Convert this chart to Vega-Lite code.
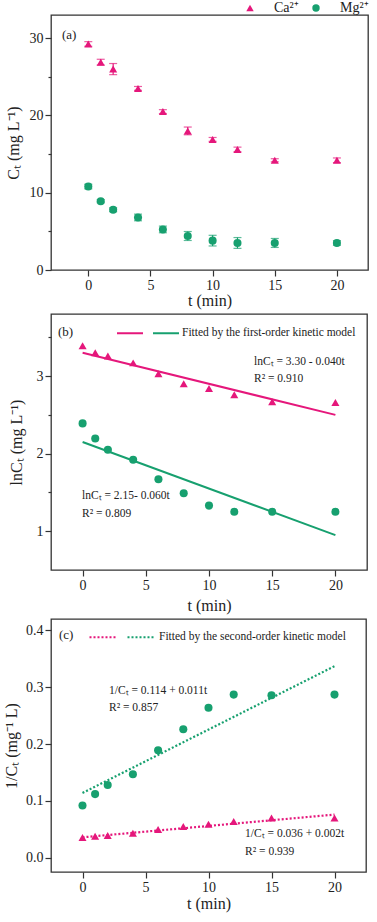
{
  "$schema": "https://vega.github.io/schema/vega-lite/v6.json",
  "padding": {"left": 2, "top": 0, "right": 5, "bottom": 3},
  "background": "white",
  "spacing": 4,
  "datasets": {
    "obs": [
      {"t": 0, "ion": "Ca²⁺", "c": 29.25, "err": 0.3, "lnc": 3.39, "inv": 0.0355},
      {"t": 1, "ion": "Ca²⁺", "c": 26.9, "err": 0.37, "lnc": 3.30, "inv": 0.038},
      {"t": 2, "ion": "Ca²⁺", "c": 26.0, "err": 0.72, "lnc": 3.26, "inv": 0.039},
      {"t": 4, "ion": "Ca²⁺", "c": 23.5, "err": 0.25, "lnc": 3.17, "inv": 0.043},
      {"t": 6, "ion": "Ca²⁺", "c": 20.5, "err": 0.25, "lnc": 3.03, "inv": 0.0496},
      {"t": 8, "ion": "Ca²⁺", "c": 18.0, "err": 0.5, "lnc": 2.90, "inv": 0.055},
      {"t": 10, "ion": "Ca²⁺", "c": 16.9, "err": 0.25, "lnc": 2.84, "inv": 0.059},
      {"t": 12, "ion": "Ca²⁺", "c": 15.6, "err": 0.3, "lnc": 2.76, "inv": 0.064},
      {"t": 15, "ion": "Ca²⁺", "c": 14.2, "err": 0.2, "lnc": 2.67, "inv": 0.070},
      {"t": 20, "ion": "Ca²⁺", "c": 14.2, "err": 0.3, "lnc": 2.66, "inv": 0.070},
      {"t": 0, "ion": "Mg²⁺", "c": 10.8, "err": 0.3, "lnc": 2.39, "inv": 0.092},
      {"t": 1, "ion": "Mg²⁺", "c": 8.9, "err": 0.2, "lnc": 2.195, "inv": 0.112},
      {"t": 2, "ion": "Mg²⁺", "c": 7.8, "err": 0.25, "lnc": 2.05, "inv": 0.128},
      {"t": 4, "ion": "Mg²⁺", "c": 6.8, "err": 0.43, "lnc": 1.92, "inv": 0.147},
      {"t": 6, "ion": "Mg²⁺", "c": 5.25, "err": 0.43, "lnc": 1.67, "inv": 0.189},
      {"t": 8, "ion": "Mg²⁺", "c": 4.4, "err": 0.58, "lnc": 1.49, "inv": 0.226},
      {"t": 10, "ion": "Mg²⁺", "c": 3.8, "err": 0.69, "lnc": 1.33, "inv": 0.264},
      {"t": 12, "ion": "Mg²⁺", "c": 3.5, "err": 0.7, "lnc": 1.25, "inv": 0.287},
      {"t": 15, "ion": "Mg²⁺", "c": 3.5, "err": 0.58, "lnc": 1.25, "inv": 0.286},
      {"t": 20, "ion": "Mg²⁺", "c": 3.5, "err": 0.3, "lnc": 1.25, "inv": 0.287}
    ],
    "fit1": [
      {"t": 0, "ion": "Ca²⁺", "v": 3.30},
      {"t": 20, "ion": "Ca²⁺", "v": 2.50},
      {"t": 0, "ion": "Mg²⁺", "v": 2.15},
      {"t": 20, "ion": "Mg²⁺", "v": 0.95}
    ],
    "fit2": [
      {"t": 0, "ion": "Ca²⁺", "v": 0.036},
      {"t": 20, "ion": "Ca²⁺", "v": 0.076},
      {"t": 0, "ion": "Mg²⁺", "v": 0.114},
      {"t": 20, "ion": "Mg²⁺", "v": 0.337}
    ]
  },
  "resolve": {"scale": {"color": "independent", "shape": "independent"}},
  "vconcat": [
    {
      "width": 317,
      "height": 255,
      "resolve": {"legend": {"color": "independent", "shape": "independent"}},
      "layer": [
        {
          "data": {"name": "obs"},
          "mark": {"type": "errorbar", "ticks": {"size": 8}, "thickness": 1.2},
          "encoding": {
            "x": {"field": "t", "type": "quantitative", "scale": {"domain": [-3, 22.5], "nice": false, "zero": false},
              "axis": {"title": "t (min)", "values": [0, 2.5, 5, 7.5, 10, 12.5, 15, 17.5, 20], "labelExpr": "datum.value % 5 === 0 ? datum.label : ''", "tickSize": {"condition": {"test": "datum.value % 5 === 0", "value": 6}, "value": 3}, "titlePadding": 0}},
            "y": {"field": "c", "type": "quantitative", "scale": {"domain": [0, 33], "nice": false, "zero": false},
              "axis": {"title": "Cₜ  (mg L⁻¹)", "values": [0, 5, 10, 15, 20, 25, 30], "labelExpr": "datum.value % 10 === 0 ? datum.label : ''", "tickSize": {"condition": {"test": "datum.value % 10 === 0", "value": 6}, "value": 3}, "titlePadding": 8}},
            "yError": {"field": "err"},
            "color": {"field": "ion", "type": "nominal", "scale": {"domain": ["Ca²⁺", "Mg²⁺"], "range": ["#E5177B", "#17A06F"]}, "legend": null}
          }
        },
        {
          "data": {"name": "obs"},
          "mark": {"type": "point", "filled": true, "opacity": 1, "size": 65},
          "encoding": {
            "x": {"field": "t", "type": "quantitative"},
            "y": {"field": "c", "type": "quantitative"},
            "color": {"field": "ion", "type": "nominal", "scale": {"domain": ["Ca²⁺", "Mg²⁺"], "range": ["#E5177B", "#17A06F"]},
              "legend": {"orient": "none", "legendX": 192, "legendY": -14, "direction": "horizontal", "title": null, "labelFontSize": 14, "labelOffset": 17, "columnPadding": 10, "symbolSize": 55}},
            "shape": {"field": "ion", "type": "nominal", "scale": {"domain": ["Ca²⁺", "Mg²⁺"], "range": ["triangle-up", "circle"]},
              "legend": {"orient": "none", "legendX": 192, "legendY": -14, "direction": "horizontal", "title": null, "labelFontSize": 14, "labelOffset": 17, "columnPadding": 10, "symbolSize": 55}}
          }
        },
        {
          "data": {"values": [{}]},
          "mark": {"type": "text", "align": "left", "baseline": "middle", "fontSize": 13, "color": "#222"},
          "encoding": {"x": {"datum": -2.12}, "y": {"datum": 30.4}, "text": {"value": "(a)"}}
        }
      ]
    },
    {
      "width": 316,
      "height": 256,
      "resolve": {"legend": {"color": "independent", "shape": "independent"}},
      "layer": [
        {
          "data": {"name": "fit1"},
          "mark": {"type": "line", "strokeWidth": 2},
          "encoding": {
            "x": {"field": "t", "type": "quantitative", "scale": {"domain": [-2.5, 22.5], "nice": false, "zero": false},
              "axis": {"title": "t (min)", "values": [0, 2.5, 5, 7.5, 10, 12.5, 15, 17.5, 20], "labelExpr": "datum.value % 5 === 0 ? datum.label : ''", "tickSize": {"condition": {"test": "datum.value % 5 === 0", "value": 6}, "value": 3}, "titlePadding": 5}},
            "y": {"field": "v", "type": "quantitative", "scale": {"domain": [0.5, 3.8], "nice": false, "zero": false},
              "axis": {"title": "lnCₜ (mg L⁻¹)", "values": [1, 1.5, 2, 2.5, 3, 3.5], "labelExpr": "datum.value % 1 === 0 ? format(datum.value, 'd') : ''", "tickSize": {"condition": {"test": "datum.value % 1 === 0", "value": 6}, "value": 3}, "titlePadding": 12}},
            "color": {"field": "ion", "type": "nominal", "scale": {"domain": ["Ca²⁺", "Mg²⁺"], "range": ["#E5177B", "#17A06F"]},
              "legend": {"orient": "none", "legendX": 65, "legendY": 5, "direction": "horizontal", "title": null, "symbolType": "stroke", "symbolSize": 676, "symbolStrokeWidth": 2, "labelOffset": 2, "columnPadding": 2, "labelFontSize": 11.5, "labelLimit": 0,
                "labelExpr": "datum.value === 'Ca²⁺' ? '' : 'Fitted by the first-order kinetic model'"}}
          }
        },
        {
          "data": {"name": "obs"},
          "mark": {"type": "point", "filled": true, "opacity": 1, "size": 65},
          "encoding": {
            "x": {"field": "t", "type": "quantitative"},
            "y": {"field": "lnc", "type": "quantitative"},
            "color": {"field": "ion", "type": "nominal", "legend": null},
            "shape": {"field": "ion", "type": "nominal", "scale": {"domain": ["Ca²⁺", "Mg²⁺"], "range": ["triangle-up", "circle"]}, "legend": null}
          }
        },
        {
          "data": {"values": [{}]},
          "mark": {"type": "text", "align": "left", "baseline": "middle", "fontSize": 13, "color": "#222"},
          "encoding": {"x": {"datum": -1.95}, "y": {"datum": 3.57}, "text": {"value": "(b)"}}
        },
        {
          "data": {"values": [{}]},
          "mark": {"type": "text", "align": "left", "baseline": "middle", "fontSize": 11.5, "color": "#222"},
          "encoding": {"x": {"datum": 13.56}, "y": {"datum": 3.18}, "text": {"value": "lnCₜ = 3.30 - 0.040t"}}
        },
        {
          "data": {"values": [{}]},
          "mark": {"type": "text", "align": "left", "baseline": "middle", "fontSize": 11.5, "color": "#222"},
          "encoding": {"x": {"datum": 13.56}, "y": {"datum": 2.96}, "text": {"value": "R² = 0.910"}}
        },
        {
          "data": {"values": [{}]},
          "mark": {"type": "text", "align": "left", "baseline": "middle", "fontSize": 11.5, "color": "#222"},
          "encoding": {"x": {"datum": -0.05}, "y": {"datum": 1.454}, "text": {"value": "lnCₜ = 2.15- 0.060t"}}
        },
        {
          "data": {"values": [{}]},
          "mark": {"type": "text", "align": "left", "baseline": "middle", "fontSize": 11.5, "color": "#222"},
          "encoding": {"x": {"datum": -0.05}, "y": {"datum": 1.222}, "text": {"value": "R² = 0.809"}}
        }
      ]
    },
    {
      "width": 315,
      "height": 253,
      "resolve": {"legend": {"color": "independent", "shape": "independent"}},
      "layer": [
        {
          "data": {"name": "fit2"},
          "mark": {"type": "line", "strokeWidth": 2.2, "strokeDash": [2, 2]},
          "encoding": {
            "x": {"field": "t", "type": "quantitative", "scale": {"domain": [-2.5, 22.5], "nice": false, "zero": false},
              "axis": {"title": "t (min)", "values": [0, 2.5, 5, 7.5, 10, 12.5, 15, 17.5, 20], "labelExpr": "datum.value % 5 === 0 ? datum.label : ''", "tickSize": {"condition": {"test": "datum.value % 5 === 0", "value": 6}, "value": 3}, "titlePadding": 1}},
            "y": {"field": "v", "type": "quantitative", "scale": {"domain": [-0.025, 0.42], "nice": false, "zero": false},
              "axis": {"title": "1/Cₜ (mg⁻¹ L)", "values": [0, 0.05, 0.1, 0.15, 0.2, 0.25, 0.3, 0.35, 0.4], "labelExpr": "abs(datum.value * 10 - round(datum.value * 10)) < 0.000001 ? format(datum.value, '.1f') : ''", "tickSize": {"condition": {"test": "abs(datum.value * 10 - round(datum.value * 10)) < 0.000001", "value": 6}, "value": 3}, "titlePadding": 6}},
            "color": {"field": "ion", "type": "nominal", "scale": {"domain": ["Ca²⁺", "Mg²⁺"], "range": ["#E5177B", "#17A06F"]},
              "legend": {"orient": "none", "legendX": 37, "legendY": 3, "direction": "horizontal", "title": null, "symbolType": "stroke", "symbolSize": 729, "symbolStrokeWidth": 2.2, "symbolDash": [2, 2], "labelOffset": 3, "columnPadding": 2, "labelFontSize": 11.5, "labelLimit": 0,
                "labelExpr": "datum.value === 'Ca²⁺' ? '' : 'Fitted by the second-order kinetic model'"}}
          }
        },
        {
          "data": {"name": "obs"},
          "mark": {"type": "point", "filled": true, "opacity": 1, "size": 65},
          "encoding": {
            "x": {"field": "t", "type": "quantitative"},
            "y": {"field": "inv", "type": "quantitative"},
            "color": {"field": "ion", "type": "nominal", "legend": null},
            "shape": {"field": "ion", "type": "nominal", "scale": {"domain": ["Ca²⁺", "Mg²⁺"], "range": ["triangle-up", "circle"]}, "legend": null}
          }
        },
        {
          "data": {"values": [{}]},
          "mark": {"type": "text", "align": "left", "baseline": "middle", "fontSize": 13, "color": "#222"},
          "encoding": {"x": {"datum": -1.87}, "y": {"datum": 0.391}, "text": {"value": "(c)"}}
        },
        {
          "data": {"values": [{}]},
          "mark": {"type": "text", "align": "left", "baseline": "middle", "fontSize": 11.5, "color": "#222"},
          "encoding": {"x": {"datum": 2.1}, "y": {"datum": 0.293}, "text": {"value": "1/Cₜ = 0.114 + 0.011t"}}
        },
        {
          "data": {"values": [{}]},
          "mark": {"type": "text", "align": "left", "baseline": "middle", "fontSize": 11.5, "color": "#222"},
          "encoding": {"x": {"datum": 2.1}, "y": {"datum": 0.263}, "text": {"value": "R² = 0.857"}}
        },
        {
          "data": {"values": [{}]},
          "mark": {"type": "text", "align": "left", "baseline": "middle", "fontSize": 11.5, "color": "#222"},
          "encoding": {"x": {"datum": 12.9}, "y": {"datum": 0.041}, "text": {"value": "1/Cₜ = 0.036 + 0.002t"}}
        },
        {
          "data": {"values": [{}]},
          "mark": {"type": "text", "align": "left", "baseline": "middle", "fontSize": 11.5, "color": "#222"},
          "encoding": {"x": {"datum": 12.9}, "y": {"datum": 0.011}, "text": {"value": "R² = 0.939"}}
        }
      ]
    }
  ],
  "config": {
    "font": "Liberation Serif",
    "view": {"stroke": "#333", "strokeWidth": 1.3},
    "axis": {"domain": false, "grid": false, "labelFont": "Liberation Serif", "titleFont": "Liberation Serif", "labelFontSize": 14, "titleFontSize": 16, "titleFontWeight": "normal", "labelColor": "#222", "titleColor": "#222", "tickColor": "#333", "tickWidth": 1.2, "labelPadding": 2},
    "legend": {"labelFont": "Liberation Serif", "labelColor": "#222"}
  }
}
